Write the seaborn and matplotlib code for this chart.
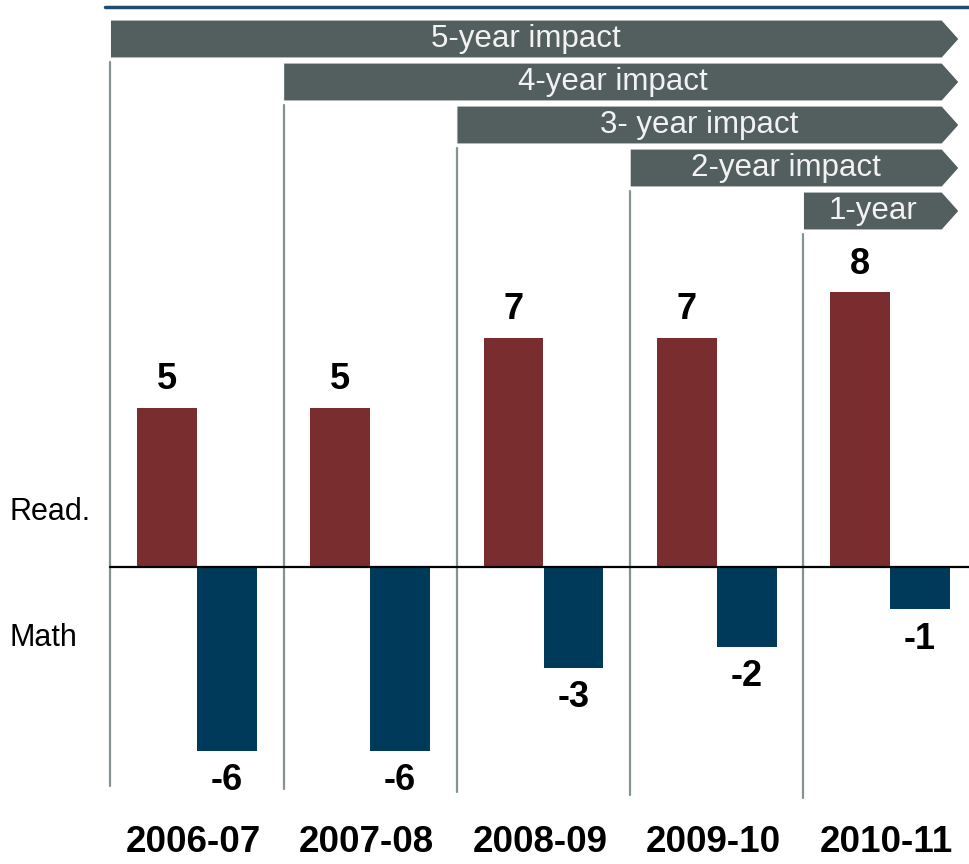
"""Reading vs math impact by cohort year, with cumulative-impact banners."""

import matplotlib.pyplot as plt
from matplotlib.patches import Polygon
import seaborn as sns
import pandas as pd

sns.set_style("white")
plt.rcParams['font.family'] = ['Liberation Sans', 'DejaVu Sans']
plt.rcParams['text.color'] = 'black'

# Data
years = ['2006-07', '2007-08', '2008-09', '2009-10', '2010-11']
read_vals = [4.9, 4.9, 7.05, 7.05, 8.45]
math_vals = [-5.65, -5.65, -3.1, -2.45, -1.3]
read_labels = ['5', '5', '7', '7', '8']
math_labels = ['-6', '-6', '-3', '-2', '-1']
impact_labels = ['5-year impact', '4-year impact', '3- year impact',
                 '2-year impact', '1-year']

READ_COLOR = '#7a2d2f'
MATH_COLOR = '#003a5a'
BANNER_COLOR = '#535f5e'
DIVIDER_COLOR = '#849393'

# Layout in pixels (970 x 864 canvas) mapped onto data units
W, H = 970, 864
X0, XPITCH = 197, 173.25      # centre of first group, distance between groups
Y0, YUNIT = 567, 32.5         # zero line, pixels per point


def px_x(x):
    return (x - X0) / XPITCH


def px_y(y):
    return (Y0 - y) / YUNIT


df = pd.DataFrame({
    'year': years * 2,
    'subject': ['Read.'] * len(years) + ['Math'] * len(years),
    'value': read_vals + math_vals,
})

fig = plt.figure(figsize=(W / 100, H / 100), dpi=100)
ax = fig.add_axes([0, 0, 1, 1])

sns.barplot(data=df, x='year', y='value', hue='subject', order=years,
            hue_order=['Read.', 'Math'], palette=[READ_COLOR, MATH_COLOR],
            width=0.69, saturation=1, errorbar=None, linewidth=0,
            legend=False, ax=ax)

ax.set_xlim(px_x(0), px_x(W))
ax.set_ylim(px_y(H), px_y(0))
ax.axis('off')

bar_w = 0.69 / 2

# value labels
for i in range(len(years)):
    ax.text(i - bar_w / 2, read_vals[i] + 28 / YUNIT, read_labels[i],
            ha='center', va='center', fontsize=26, fontweight='bold')
    ax.text(i + bar_w / 2, math_vals[i] - 30 / YUNIT, math_labels[i],
            ha='center', va='center', fontsize=26, fontweight='bold')
    ax.text(i - 0.02, px_y(842), years[i], ha='center', va='center',
            fontsize=26.5, fontweight='bold')

# zero line and top rule
ax.plot([-0.5, px_x(W)], [0, 0], color='black', lw=1.6, zorder=3)
ax.plot([px_x(105), px_x(W)], [px_y(7), px_y(7)], color='#1f4b6e', lw=2.5)

# impact banners and dividers
body_right, tip = px_x(942), px_x(959)
for i, label in enumerate(impact_labels):
    top = 20 + i * 43
    bottom = top + 38
    left = i - 0.5
    pts = [(left, px_y(top)), (body_right, px_y(top)),
           (tip, px_y((top + bottom) / 2)), (body_right, px_y(bottom)),
           (left, px_y(bottom))]
    ax.add_patch(Polygon(pts, closed=True, facecolor=BANNER_COLOR,
                         edgecolor='white', lw=0.8, zorder=4))
    ax.text((left + body_right) / 2, px_y((top + bottom) / 2), label,
            ha='center', va='center', fontsize=22.5, color='#f2f2f2', zorder=5)
    ax.plot([left, left], [px_y(bottom + 4), px_y(786 + i * 3)],
            color=DIVIDER_COLOR, lw=1.6, zorder=1)

# row labels
ax.text(px_x(9), px_y(512), 'Read.', ha='left', va='center', fontsize=22)
ax.text(px_x(9), px_y(638), 'Math', ha='left', va='center', fontsize=22)

plt.savefig('out.png', dpi=100)
plt.close()
